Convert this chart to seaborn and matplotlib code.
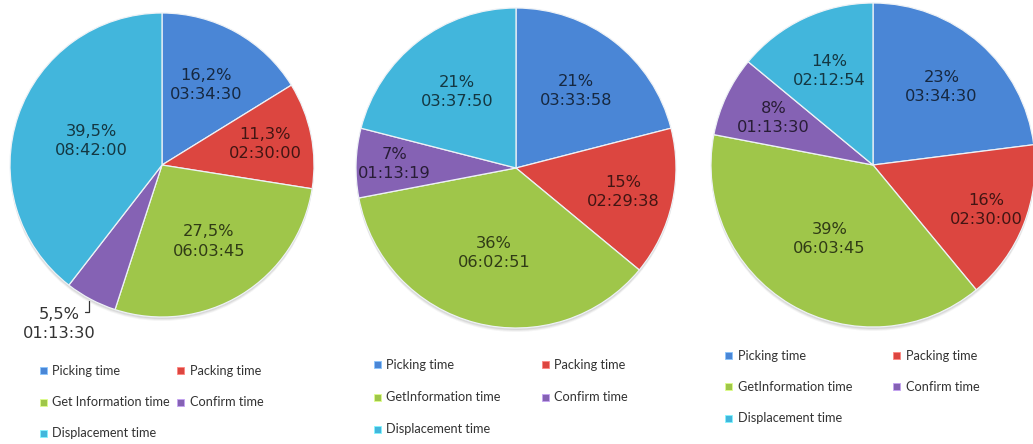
import numpy as np
import matplotlib
matplotlib.use("Agg")
import matplotlib.pyplot as plt
import seaborn as sns
from matplotlib.patches import Rectangle

# Activity categories (slice order, clockwise from 12 o'clock)
categories = ["Picking time", "Packing time", "Get Information time",
              "Confirm time", "Displacement time"]
legend_labels_a = categories
legend_labels_bc = ["Picking time", "Packing time", "GetInformation time",
                    "Confirm time", "Displacement time"]

# Scenario A
share_a = [16.2, 11.3, 27.5, 5.5, 39.5]
time_a = ["03:34:30", "02:30:00", "06:03:45", "01:13:30", "08:42:00"]

# Scenario B
share_b = [21, 15, 36, 7, 21]
time_b = ["03:33:58", "02:29:38", "06:02:51", "01:13:19", "03:37:50"]

# Scenario C
share_c = [23, 16, 39, 8, 14]
time_c = ["03:34:30", "02:30:00", "06:03:45", "01:13:30", "02:12:54"]

sns.set_theme(style="white")
plt.rcParams["font.family"] = ["DejaVu Sans"]

palette = sns.color_palette(["#4a86d6", "#dc4640", "#9fc64a", "#8562b4", "#42b6dc"])
text_colors = [tuple(np.array(c) * 0.30) for c in palette]

W, H = 1033, 444
fig = plt.figure(figsize=(W / 100, H / 100), dpi=100)
ax = fig.add_axes([0, 0, 1, 1])

# layout of each pie (pixel units, y measured from the top)
charts = [
    dict(share=share_a, time=time_a, legend=legend_labels_a, decimals=1,
         center=(162, 165), radius=152,
         label_r=[0.60, 0.69, 0.59, None, 0.49],
         outside=(-103, 159),
         legend_xy=(43, 371), col_gap=137, row_gap=31),
    dict(share=share_b, time=time_b, legend=legend_labels_bc, decimals=0,
         center=(516, 168), radius=160,
         label_r=[0.61, 0.69, 0.55, 0.76, 0.60],
         outside=None,
         legend_xy=(377, 365), col_gap=168, row_gap=32),
    dict(share=share_c, time=time_c, legend=legend_labels_bc, decimals=0,
         center=(873, 165), radius=162,
         label_r=[0.64, 0.75, 0.53, 0.68, 0.64],
         outside=None,
         legend_xy=(728, 356), col_gap=168, row_gap=31),
]


def fmt_pct(v, decimals):
    s = f"{v:.{decimals}f}%"
    return s.replace(".", ",")


for ch in charts:
    cx, cy_img = ch["center"]
    cy = H - cy_img
    r = ch["radius"]

    # soft drop shadow under the pie
    for k, a in zip([4, 3, 2], [0.05, 0.07, 0.09]):
        ax.add_patch(plt.Circle((cx, cy - k), r, color="#404040", alpha=a, lw=0, zorder=0))

    wedges, _ = ax.pie(ch["share"], colors=palette, startangle=90, counterclock=False,
                       center=(cx, cy), radius=r, frame=True,
                       wedgeprops=dict(edgecolor="#eef2f6", linewidth=0.9))

    for i, w in enumerate(wedges):
        theta = np.deg2rad((w.theta1 + w.theta2) / 2)
        label = fmt_pct(ch["share"][i], ch["decimals"]) + "\n" + ch["time"][i]
        d = ch["label_r"][i]
        if d is not None:
            x = cx + d * r * np.cos(theta)
            y = cy + d * r * np.sin(theta)
            ax.text(x, y, label, ha="center", va="center", fontsize=11.7,
                    color=text_colors[i], linespacing=1.35, zorder=5)
        else:
            ox, oy = ch["outside"]
            tx, ty = cx + ox, cy - oy
            ax.text(tx, ty, label, ha="center", va="center", fontsize=11.7,
                    color="#333333", linespacing=1.35, zorder=5)
            # leader line from the slice rim to the label
            ax0 = cx + r * np.cos(theta) - 2
            ay0 = cy + r * np.sin(theta) - 2
            row_y = ty + 12
            ax.plot([ax0, ax0, ax0 - 4], [ay0, row_y, row_y], color="#333333",
                    lw=0.9, zorder=5, solid_joinstyle="miter")

    # legend: two columns, row-major order
    lx, ly = ch["legend_xy"]
    for i, name in enumerate(ch["legend"]):
        row, col = divmod(i, 2)
        mx = lx + col * ch["col_gap"]
        my = H - (ly + row * ch["row_gap"])
        ax.add_patch(Rectangle((mx - 3.5, my - 3.5), 7, 7, facecolor=palette[i],
                               edgecolor=tuple(min(1, c + 0.25) for c in palette[i]),
                               lw=0.6, zorder=5))
        ax.text(mx + 9.5, my, name, ha="left", va="center", fontsize=9.2,
                family="Lato", color="#333333", zorder=5)

ax.set_xlim(0, W)
ax.set_ylim(0, H)
ax.set_aspect("equal")
ax.set_axis_off()

fig.savefig("out.png", dpi=100, facecolor="white")
